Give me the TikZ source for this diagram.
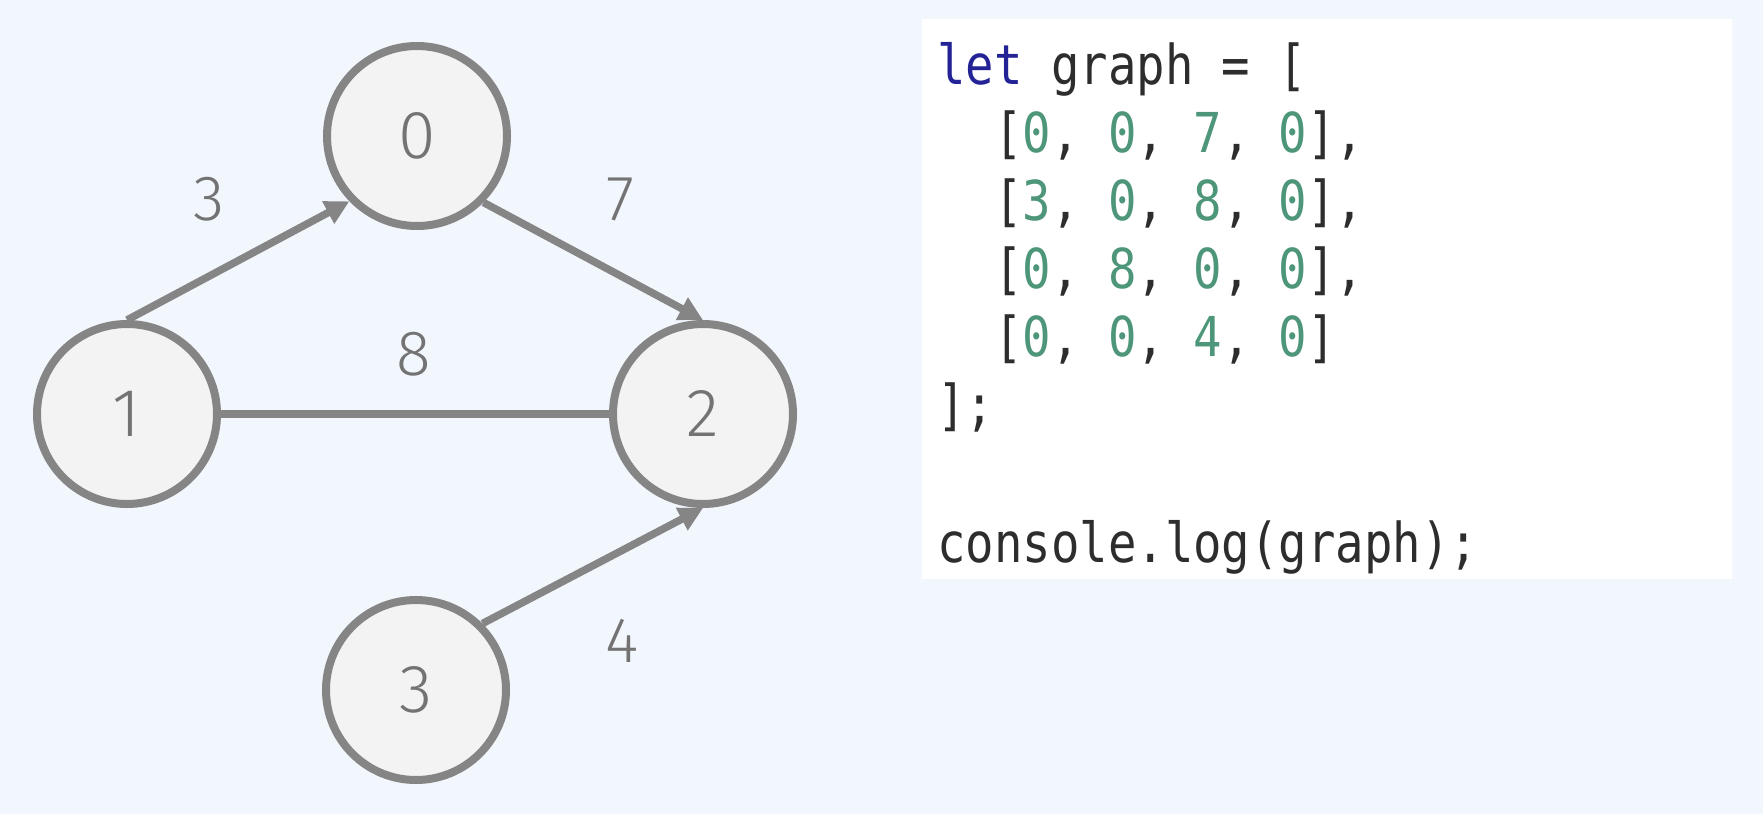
\documentclass[tikz,border=0pt]{standalone}
\usepackage{fontspec}
\usetikzlibrary{arrows.meta}
\newfontfamily\nodefont{Fira Sans}[UprightFont=* Light]
\newfontfamily\codefont{DejaVu Sans Mono}[FakeStretch=0.86]
\definecolor{bgblue}{RGB}{242,246,253}
\definecolor{linkgray}{RGB}{133,133,133}
\definecolor{txtgray}{RGB}{115,115,115}
\definecolor{vfill}{RGB}{243,243,243}
\definecolor{kwblue}{RGB}{35,35,150}
\definecolor{numgreen}{RGB}{78,150,122}
\definecolor{codedark}{RGB}{45,45,45}
\tikzset{
  vertex/.style={circle, draw=linkgray, fill=vfill, line width=8pt, minimum size=180pt, inner sep=0pt, text=txtgray, font=\nodefont\fontsize{68}{68}\selectfont},
  weight/.style={text=txtgray, font=\nodefont\fontsize{64}{64}\selectfont, inner sep=0pt},
  link/.style={draw=linkgray, line width=7.5pt},
  arr/.style={link, -{Triangle[length=24pt,width=24pt]}},
  codeline/.style={anchor=base west, inner sep=0pt, text=codedark, font=\codefont\fontsize{55}{68}\selectfont}
}
\newcommand{\num}[1]{\textcolor{numgreen}{#1}}
\begin{document}
\begin{tikzpicture}[x=1pt, y=-1pt]
\useasboundingbox (0,0) rectangle (1763,814);
\fill[bgblue] (0,0) rectangle (1763,814);

% graph
\node[vertex] (v0) at (417,136) {0};
\node[vertex] (v1) at (127,414) {1};
\node[vertex] (v2) at (703,414) {2};
\node[vertex] (v3) at (416,690) {3};

\draw[arr] (v1.north) -- (v0.224);
\draw[arr] (v0.315) -- (v2.north);
\draw[link] (v1.east) -- (v2.west);
\draw[arr] (v3.45) -- (v2.south);

\node[weight] (w10) at (209,199) {3};
\node[weight] (w02) at (620,199) {7};
\node[weight] (w12) at (414,354) {8};
\node[weight] (w32) at (622,641) {4};

% code
\fill[white] (922,19) rectangle (1732,579);
\node[codeline] (c1) at (937,84) {\textcolor{kwblue}{let} graph = [};
\node[codeline] (c2) at (994,152) {[\num{0}, \num{0}, \num{7}, \num{0}],};
\node[codeline] (c3) at (994,220) {[\num{3}, \num{0}, \num{8}, \num{0}],};
\node[codeline] (c4) at (994,288) {[\num{0}, \num{8}, \num{0}, \num{0}],};
\node[codeline] (c5) at (994,356) {[\num{0}, \num{0}, \num{4}, \num{0}]};
\node[codeline] (c6) at (937,424) {];};
\node[codeline] (c7) at (937,562) {console.log(graph);};
\end{tikzpicture}
\end{document}
